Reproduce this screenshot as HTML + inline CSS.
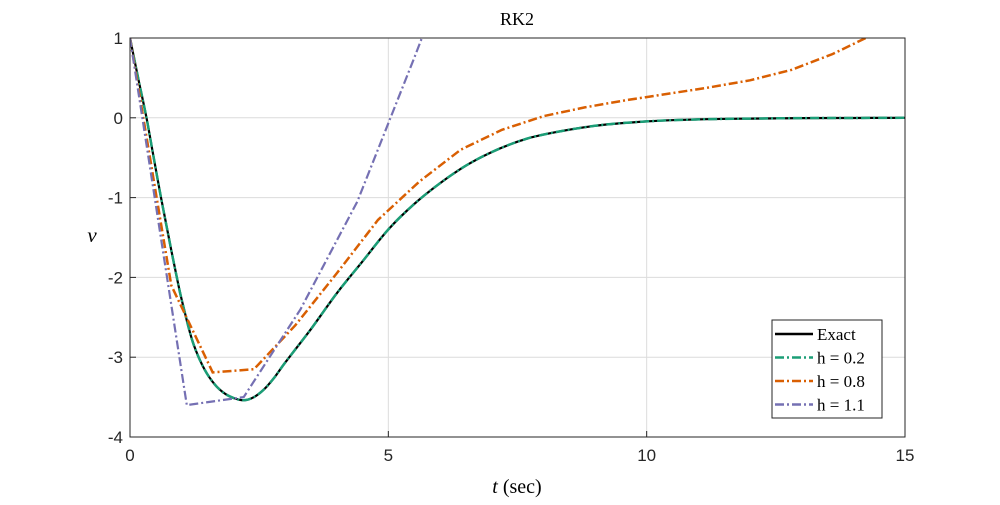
<!DOCTYPE html>
<html><head><meta charset="utf-8"><style>
body{margin:0;background:#fff}
svg text{font-family:"Liberation Sans",sans-serif}
</style></head><body>
<svg id="chart" width="1000" height="500" viewBox="0 0 1000 500">
<defs><clipPath id="clip"><rect x="130" y="38" width="775" height="399"/></clipPath></defs>
<g id="grid"></g>
<g id="series" clip-path="url(#clip)"></g>
<rect x="130" y="38" width="775" height="399" fill="none" stroke="#262626" stroke-width="1"/>
<g id="ticks"></g>
<text x="517" y="25" text-anchor="middle" font-size="18" style="font-family:'Liberation Serif',serif">RK2</text>
<text x="517" y="493" text-anchor="middle" font-size="20" style="font-family:'Liberation Serif',serif"><tspan font-style="italic">t</tspan> (sec)</text>
<text x="92" y="242" text-anchor="middle" font-size="21" font-style="italic" style="font-family:'Liberation Serif',serif">v</text>
<g id="legend">
<rect x="772" y="320" width="110" height="98" fill="#fff" stroke="#262626" stroke-width="1"/>
</g>
</svg>
<script>
const xTicks=[0,5,10,15];
const yTicks=[1,0,-1,-2,-3,-4];
const exactT=[0,0.15,0.32,0.45,0.6,0.75,0.9,1.0,1.2,1.4,1.6,1.8,2.0,2.2,2.4,2.6,2.8,3,3.5,4,4.5,5,5.5,6,6.5,7,7.5,8,9,10,11,12,13,14,15];
const exactV=[1,0.52,0,-0.47,-1,-1.5,-1.98,-2.28,-2.78,-3.1,-3.31,-3.44,-3.51,-3.54,-3.5,-3.4,-3.25,-3.07,-2.65,-2.2,-1.8,-1.4,-1.08,-0.82,-0.6,-0.43,-0.3,-0.21,-0.1,-0.045,-0.02,-0.01,-0.004,-0.002,0];
const h2T=exactT;
const h2V=exactV;
const h8T=[0,0.8,1.6,2.4,3.2,4.0,4.8,5.6,6.4,7.2,8.0,8.8,9.6,10.4,11.2,12.0,12.8,13.6,14.4];
const h8V=[1,-2.1,-3.19,-3.15,-2.6,-1.95,-1.28,-0.8,-0.4,-0.15,0.02,0.13,0.22,0.3,0.38,0.47,0.6,0.8,1.05];
const h11T=[0,1.1,2.2,3.3,4.4,5.5,6.6];
const h11V=[1,-3.6,-3.5,-2.4,-1.05,0.75,2.6];
const NS='http://www.w3.org/2000/svg';
const X=t=>130+t*(775/15);
const Y=v=>38+(1-v)*(399/5);
function mk(tag,attrs,parent){const e=document.createElementNS(NS,tag);for(const k in attrs)e.setAttribute(k,attrs[k]);parent.appendChild(e);return e;}
const grid=document.getElementById('grid'),ticks=document.getElementById('ticks'),series=document.getElementById('series'),legend=document.getElementById('legend');
xTicks.forEach(t=>{
 const l=mk('line',{x1:X(t),x2:X(t),y1:38,y2:437,stroke:'#dcdcdc','stroke-width':1},grid);
 
 
 const tk=mk('line',{x1:X(t),x2:X(t),y1:437,y2:431,stroke:'#262626'},ticks);
 
 
 const tx=mk('text',{x:X(t),y:461,'text-anchor':'middle','font-size':17,fill:'#262626'},ticks);
 tx.textContent=t;
 
 
});
yTicks.forEach(v=>{
 const l=mk('line',{x1:130,x2:905,y1:Y(v),y2:Y(v),stroke:'#dcdcdc','stroke-width':1},grid);
 
 
 const tk=mk('line',{x1:130,x2:136,y1:Y(v),y2:Y(v),stroke:'#262626'},ticks);
 
 
 const tx=mk('text',{x:123,y:Y(v)+6,'text-anchor':'end','font-size':17,fill:'#262626'},ticks);
 tx.textContent=v;
 
 
});
function pathD(T,V,smooth){
 const P=T.map((t,i)=>[X(t),Y(V[i])]);
 if(!smooth)return P.map((p,i)=>(i?'L':'M')+p[0].toFixed(1)+','+p[1].toFixed(1)).join(' ');
 let d='M'+P[0][0].toFixed(1)+','+P[0][1].toFixed(1);
 for(let i=0;i<P.length-1;i++){
  const p0=P[Math.max(0,i-1)],p1=P[i],p2=P[i+1],p3=P[Math.min(P.length-1,i+2)];
  const c1=[p1[0]+(p2[0]-p0[0])/6,p1[1]+(p2[1]-p0[1])/6];
  const c2=[p2[0]-(p3[0]-p1[0])/6,p2[1]-(p3[1]-p1[1])/6];
  d+=' C'+c1.map(n=>n.toFixed(1)).join(',')+' '+c2.map(n=>n.toFixed(1)).join(',')+' '+p2[0].toFixed(1)+','+p2[1].toFixed(1);
 }
 return d;
}
function line(T,V,color,dash,width,name,smooth){
 const p=mk('path',{d:pathD(T,V,smooth),fill:'none',stroke:color,'stroke-width':width,'stroke-dasharray':dash},series);
 
 
}
line(exactT,exactV,'#000','none',2.2,'exact-line',true);
line(h2T,h2V,'#1b9e77','9 3 2 3',2.5,'h02-line',true);
line(h8T,h8V,'#d95f02','9 3 2 3',2.5,'h08-line',false);
line(h11T,h11V,'#7570b3','9 3 2 3',2.2,'h11-line',false);
const leg=[['Exact','#000','none'],['h = 0.2','#1b9e77','9 3 2 3'],['h = 0.8','#d95f02','9 3 2 3'],['h = 1.1','#7570b3','9 3 2 3']];
leg.forEach((e,i)=>{
 const y=334+i*23.5;
 const l=mk('line',{x1:775,x2:813,y1:y,y2:y,stroke:e[1],'stroke-width':2.5,'stroke-dasharray':e[2]},legend);
 
 
 const t=mk('text',{x:817,y:y+6,'font-size':17,style:"font-family:'Liberation Serif',serif"},legend);
 t.textContent=e[0];
 
 
});
</script>
</body></html>
